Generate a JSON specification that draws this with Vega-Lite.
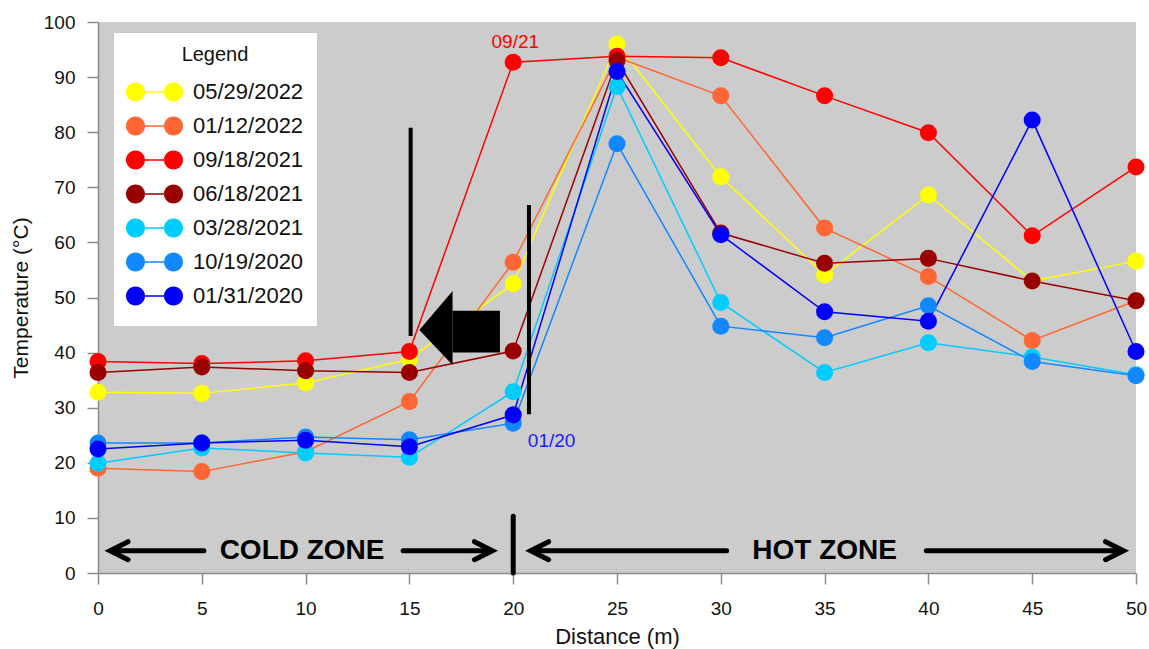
{
  "$schema": "https://vega.github.io/schema/vega-lite/v6.json",
  "width": 1038,
  "height": 551,
  "autosize": {"type": "none"},
  "padding": {"left": 98, "top": 22, "right": 13, "bottom": 76},
  "background": "white",
  "config": {
    "view": {"fill": "#cccccc", "stroke": null},
    "font": "Liberation Sans",
    "axis": {
      "domainColor": "#8c8c8c", "domainWidth": 1.5, "tickColor": "#8c8c8c", "tickWidth": 1.5, "tickSize": 11,
      "grid": false, "labelFont": "Liberation Sans", "labelFontSize": 19, "labelColor": "#111111",
      "titleFont": "Liberation Sans", "titleFontSize": 21, "titleFontWeight": "normal", "titleColor": "#111111"
    },
    "legend": {
      "orient": "none", "legendX": 15, "legendY": 10,
      "titleFont": "Liberation Sans", "titleFontSize": 20, "titleFontWeight": "normal", "titleColor": "#111111", "titleAnchor": "middle", "titlePadding": 10,
      "labelFont": "Liberation Sans", "labelFontSize": 22, "labelColor": "#111111", "labelOffset": 10, "labelLimit": 300,
      "symbolType": "M-0.333,0 A0.333,0.333 0 1,0 -1,0 A0.333,0.333 0 1,0 -0.333,0 Z M1,0 A0.333,0.333 0 1,0 0.333,0 A0.333,0.333 0 1,0 1,0 Z M-0.34,-0.027 L0.34,-0.027 L0.34,0.027 L-0.34,0.027 Z",
      "symbolSize": 3249, "symbolStrokeWidth": 0, "symbolOpacity": 1,
      "clipHeight": 34, "rowPadding": 0,
      "fillColor": "white", "strokeColor": "#c8c8c8", "padding": 13
    }
  },
  "datasets": {
    "temps": [
      {"date": "05/29/2022", "distance": 0, "temp": 32.8}, {"date": "05/29/2022", "distance": 5, "temp": 32.6}, {"date": "05/29/2022", "distance": 10, "temp": 34.5}, {"date": "05/29/2022", "distance": 15, "temp": 38.8}, {"date": "05/29/2022", "distance": 20, "temp": 52.5}, {"date": "05/29/2022", "distance": 25, "temp": 96.0}, {"date": "05/29/2022", "distance": 30, "temp": 71.9}, {"date": "05/29/2022", "distance": 35, "temp": 54.1}, {"date": "05/29/2022", "distance": 40, "temp": 68.6}, {"date": "05/29/2022", "distance": 45, "temp": 53.0}, {"date": "05/29/2022", "distance": 50, "temp": 56.6},
      {"date": "01/12/2022", "distance": 0, "temp": 19.0}, {"date": "01/12/2022", "distance": 5, "temp": 18.4}, {"date": "01/12/2022", "distance": 10, "temp": 22.0}, {"date": "01/12/2022", "distance": 15, "temp": 31.1}, {"date": "01/12/2022", "distance": 20, "temp": 56.4}, {"date": "01/12/2022", "distance": 25, "temp": 93.6}, {"date": "01/12/2022", "distance": 30, "temp": 86.6}, {"date": "01/12/2022", "distance": 35, "temp": 62.6}, {"date": "01/12/2022", "distance": 40, "temp": 53.8}, {"date": "01/12/2022", "distance": 45, "temp": 42.2}, {"date": "01/12/2022", "distance": 50, "temp": 49.4},
      {"date": "09/18/2021", "distance": 0, "temp": 38.4}, {"date": "09/18/2021", "distance": 5, "temp": 38.0}, {"date": "09/18/2021", "distance": 10, "temp": 38.5}, {"date": "09/18/2021", "distance": 15, "temp": 40.2}, {"date": "09/18/2021", "distance": 20, "temp": 92.7}, {"date": "09/18/2021", "distance": 25, "temp": 93.8}, {"date": "09/18/2021", "distance": 30, "temp": 93.5}, {"date": "09/18/2021", "distance": 35, "temp": 86.6}, {"date": "09/18/2021", "distance": 40, "temp": 79.9}, {"date": "09/18/2021", "distance": 45, "temp": 61.2}, {"date": "09/18/2021", "distance": 50, "temp": 73.7},
      {"date": "06/18/2021", "distance": 0, "temp": 36.4}, {"date": "06/18/2021", "distance": 5, "temp": 37.4}, {"date": "06/18/2021", "distance": 10, "temp": 36.7}, {"date": "06/18/2021", "distance": 15, "temp": 36.4}, {"date": "06/18/2021", "distance": 20, "temp": 40.3}, {"date": "06/18/2021", "distance": 25, "temp": 93.0}, {"date": "06/18/2021", "distance": 30, "temp": 61.7}, {"date": "06/18/2021", "distance": 35, "temp": 56.2}, {"date": "06/18/2021", "distance": 40, "temp": 57.1}, {"date": "06/18/2021", "distance": 45, "temp": 53.0}, {"date": "06/18/2021", "distance": 50, "temp": 49.4},
      {"date": "03/28/2021", "distance": 0, "temp": 19.9}, {"date": "03/28/2021", "distance": 5, "temp": 22.7}, {"date": "03/28/2021", "distance": 10, "temp": 21.8}, {"date": "03/28/2021", "distance": 15, "temp": 21.0}, {"date": "03/28/2021", "distance": 20, "temp": 32.9}, {"date": "03/28/2021", "distance": 25, "temp": 88.3}, {"date": "03/28/2021", "distance": 30, "temp": 49.1}, {"date": "03/28/2021", "distance": 35, "temp": 36.4}, {"date": "03/28/2021", "distance": 40, "temp": 41.8}, {"date": "03/28/2021", "distance": 45, "temp": 39.2}, {"date": "03/28/2021", "distance": 50, "temp": 36.0},
      {"date": "10/19/2020", "distance": 0, "temp": 23.6}, {"date": "10/19/2020", "distance": 5, "temp": 23.6}, {"date": "10/19/2020", "distance": 10, "temp": 24.7}, {"date": "10/19/2020", "distance": 15, "temp": 24.2}, {"date": "10/19/2020", "distance": 20, "temp": 27.2}, {"date": "10/19/2020", "distance": 25, "temp": 77.9}, {"date": "10/19/2020", "distance": 30, "temp": 44.8}, {"date": "10/19/2020", "distance": 35, "temp": 42.7}, {"date": "10/19/2020", "distance": 40, "temp": 48.5}, {"date": "10/19/2020", "distance": 45, "temp": 38.4}, {"date": "10/19/2020", "distance": 50, "temp": 35.8},
      {"date": "01/31/2020", "distance": 0, "temp": 22.5}, {"date": "01/31/2020", "distance": 5, "temp": 23.6}, {"date": "01/31/2020", "distance": 10, "temp": 24.1}, {"date": "01/31/2020", "distance": 15, "temp": 22.9}, {"date": "01/31/2020", "distance": 20, "temp": 28.7}, {"date": "01/31/2020", "distance": 25, "temp": 91.0}, {"date": "01/31/2020", "distance": 30, "temp": 61.4}, {"date": "01/31/2020", "distance": 35, "temp": 47.4}, {"date": "01/31/2020", "distance": 40, "temp": 45.7}, {"date": "01/31/2020", "distance": 45, "temp": 82.2}, {"date": "01/31/2020", "distance": 50, "temp": 40.2}
    ],
    "vlines": [
      {"x": 15.06, "y": 80.8, "y2": 43.0},
      {"x": 20.76, "y": 66.8, "y2": 28.8}
    ],
    "divider": [{"x": 20.0, "y": 10.3, "y2": 0}],
    "arrowHead": [
      {"x": 15.48, "y": 44.1, "y2": 44.1},
      {"x": 17.08, "y": 51.2, "y2": 37.75}
    ],
    "arrowBody": [{"x": 17.08, "x2": 19.36, "y": 47.6, "y2": 40.0}],
    "shafts": [
      {"x": 0.7, "x2": 5.1, "y": 4.05},
      {"x": 14.7, "x2": 18.9, "y": 4.05},
      {"x": 20.95, "x2": 30.28, "y": 4.05},
      {"x": 39.9, "x2": 49.3, "y": 4.05}
    ],
    "leftTips": [{"x": 0.58, "y": 4.05}, {"x": 20.84, "y": 4.05}],
    "rightTips": [{"x": 19.0, "y": 4.05}, {"x": 49.4, "y": 4.05}],
    "zones": [
      {"x": 9.83, "y": 4.05, "label": "COLD ZONE"},
      {"x": 35.0, "y": 4.05, "label": "HOT ZONE"}
    ],
    "redNote": [{"x": 20.1, "y": 96.4, "label": "09/21"}],
    "blueNote": [{"x": 21.85, "y": 24.0, "label": "01/20"}]
  },
  "layer": [
    {
      "data": {"name": "temps"},
      "mark": {"type": "line", "strokeWidth": 1.5},
      "encoding": {
        "x": {"field": "distance", "type": "quantitative", "scale": {"domain": [0, 50], "nice": false},
              "axis": {"values": [0, 5, 10, 15, 20, 25, 30, 35, 40, 45, 50], "title": "Distance (m)", "titleFontSize": 22, "labelFontSize": 19, "labelPadding": 15, "titlePadding": 8, "labelFlush": false, "labelOverlap": false}},
        "y": {"field": "temp", "type": "quantitative", "scale": {"domain": [0, 100], "nice": false},
              "axis": {"values": [0, 10, 20, 30, 40, 50, 60, 70, 80, 90, 100], "title": "Temperature (°C)", "titleFontSize": 21, "labelFontSize": 19, "labelPadding": 12, "titlePadding": 12, "labelFlush": false, "labelOverlap": false}},
        "color": {"field": "date", "type": "nominal", "title": "Legend",
          "scale": {"domain": ["05/29/2022", "01/12/2022", "09/18/2021", "06/18/2021", "03/28/2021", "10/19/2020", "01/31/2020"],
                    "range": ["#ffff00", "#ff6633", "#ff0000", "#990000", "#00ccff", "#1188ff", "#0000ff"]},
          "legend": {"title": "Legend"}}
      }
    },
    {
      "data": {"name": "temps"},
      "mark": {"type": "point", "filled": true, "size": 290, "opacity": 1, "shape": "circle"},
      "encoding": {
        "x": {"field": "distance", "type": "quantitative"},
        "y": {"field": "temp", "type": "quantitative"},
        "color": {"field": "date", "type": "nominal", "title": "Legend", "legend": {"title": "Legend"}}
      }
    },
    {
      "data": {"name": "arrowHead"},
      "mark": {"type": "area", "color": "black", "opacity": 1},
      "encoding": {
        "x": {"field": "x", "type": "quantitative"},
        "y": {"field": "y", "type": "quantitative"},
        "y2": {"field": "y2"}
      }
    },
    {
      "data": {"name": "arrowBody"},
      "mark": {"type": "rect", "color": "black"},
      "encoding": {
        "x": {"field": "x", "type": "quantitative"},
        "x2": {"field": "x2"},
        "y": {"field": "y", "type": "quantitative"},
        "y2": {"field": "y2"}
      }
    },
    {
      "data": {"name": "vlines"},
      "mark": {"type": "rule", "color": "black", "strokeWidth": 4},
      "encoding": {
        "x": {"field": "x", "type": "quantitative"},
        "y": {"field": "y", "type": "quantitative"},
        "y2": {"field": "y2"}
      }
    },
    {
      "data": {"name": "divider"},
      "mark": {"type": "rule", "color": "black", "strokeWidth": 5, "strokeCap": "round"},
      "encoding": {
        "x": {"field": "x", "type": "quantitative"},
        "y": {"field": "y", "type": "quantitative"},
        "y2": {"field": "y2"}
      }
    },
    {
      "data": {"name": "shafts"},
      "mark": {"type": "rule", "color": "black", "strokeWidth": 5, "strokeCap": "round"},
      "encoding": {
        "x": {"field": "x", "type": "quantitative"},
        "x2": {"field": "x2"},
        "y": {"field": "y", "type": "quantitative"}
      }
    },
    {
      "data": {"name": "leftTips"},
      "mark": {"type": "point", "shape": "M1.8,-0.9 L0,0 L1.8,0.9", "size": 400, "filled": false, "stroke": "black", "strokeWidth": 5, "strokeCap": "round", "strokeJoin": "miter", "opacity": 1},
      "encoding": {
        "x": {"field": "x", "type": "quantitative"},
        "y": {"field": "y", "type": "quantitative"}
      }
    },
    {
      "data": {"name": "rightTips"},
      "mark": {"type": "point", "shape": "M-1.8,-0.9 L0,0 L-1.8,0.9", "size": 400, "filled": false, "stroke": "black", "strokeWidth": 5, "strokeCap": "round", "strokeJoin": "miter", "opacity": 1},
      "encoding": {
        "x": {"field": "x", "type": "quantitative"},
        "y": {"field": "y", "type": "quantitative"}
      }
    },
    {
      "data": {"name": "zones"},
      "mark": {"type": "text", "font": "Liberation Sans", "fontWeight": "bold", "fontSize": 28, "color": "black", "baseline": "middle", "align": "center"},
      "encoding": {
        "x": {"field": "x", "type": "quantitative"},
        "y": {"field": "y", "type": "quantitative"},
        "text": {"field": "label"}
      }
    },
    {
      "data": {"name": "redNote"},
      "mark": {"type": "text", "font": "Liberation Sans", "fontSize": 19, "color": "#ff0000", "baseline": "middle", "align": "center"},
      "encoding": {
        "x": {"field": "x", "type": "quantitative"},
        "y": {"field": "y", "type": "quantitative"},
        "text": {"field": "label"}
      }
    },
    {
      "data": {"name": "blueNote"},
      "mark": {"type": "text", "font": "Liberation Sans", "fontSize": 19, "color": "#1a1aff", "baseline": "middle", "align": "center"},
      "encoding": {
        "x": {"field": "x", "type": "quantitative"},
        "y": {"field": "y", "type": "quantitative"},
        "text": {"field": "label"}
      }
    }
  ]
}
